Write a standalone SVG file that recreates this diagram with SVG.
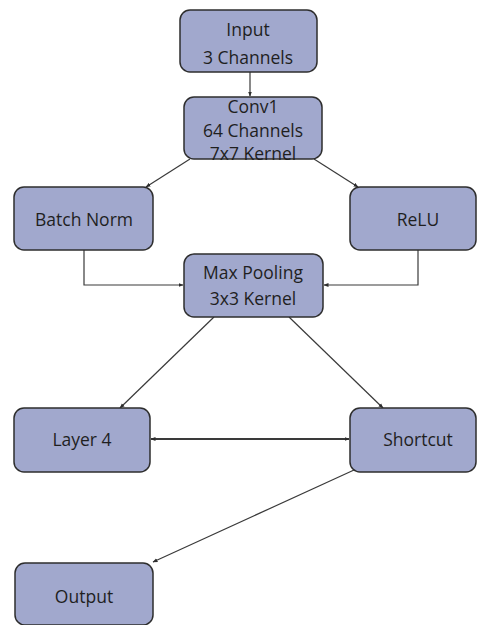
<svg xmlns="http://www.w3.org/2000/svg" width="479" height="625" viewBox="0 0 479 625">
<defs>
<style>
.n rect{fill:#a1a8cd;stroke:#2e2e2e;stroke-width:1.5}
.n text{font-family:"Open Sans","Liberation Sans",sans-serif;font-size:17.5px;fill:#1f1f1f;text-anchor:middle;dominant-baseline:central}
.c path{fill:none;stroke:#3a3a3a;stroke-width:1.2}
</style>
<marker id="a" viewBox="0 0 10 10" refX="9" refY="5" markerWidth="5" markerHeight="5" orient="auto-start-reverse" markerUnits="userSpaceOnUse">
<path d="M0,1 L10,5 L0,9 z" fill="#2e2e2e"/>
</marker>
</defs>
<rect width="479" height="625" fill="#ffffff"/>
<g id="connectors" class="c">
<path d="M250,72 V96" marker-end="url(#a)"/>
<path d="M190,159 L146,187" marker-end="url(#a)"/>
<path d="M314,159 L358,187" marker-end="url(#a)"/>
<path d="M84,250 V285 H183" marker-end="url(#a)"/>
<path d="M418,250 V285 H324" marker-end="url(#a)"/>
<path d="M214,317 L120,408" marker-end="url(#a)"/>
<path d="M289,317 L383,408" marker-end="url(#a)"/>
<path d="M151,439 H349" style="stroke-width:2" marker-start="url(#a)" marker-end="url(#a)"/>
<path d="M354,470 L153,562" marker-end="url(#a)"/>
</g>
<g id="input" class="n"><rect x="180" y="10" width="137" height="62" rx="10"/><text x="248" y="29">Input</text><text x="248" y="57">3 Channels</text></g>
<g id="conv1" class="n"><rect x="184" y="97" width="138" height="62" rx="10"/><text x="253" y="106">Conv1</text><text x="253" y="130">64 Channels</text><text x="253" y="153">7x7 Kernel</text></g>
<g id="batchnorm" class="n"><rect x="14" y="187" width="139" height="63" rx="10"/><text x="84" y="219">Batch Norm</text></g>
<g id="relu" class="n"><rect x="350" y="187" width="126" height="63" rx="10"/><text x="418" y="219">ReLU</text></g>
<g id="maxpool" class="n"><rect x="184" y="254" width="139" height="63" rx="10"/><text x="253" y="272">Max Pooling</text><text x="253" y="298">3x3 Kernel</text></g>
<g id="layer4" class="n"><rect x="14" y="408" width="136" height="64" rx="10"/><text x="82" y="439">Layer 4</text></g>
<g id="shortcut" class="n"><rect x="350" y="408" width="126" height="64" rx="10"/><text x="418" y="439">Shortcut</text></g>
<g id="output" class="n"><rect x="15" y="563" width="138" height="62" rx="10"/><text x="84" y="596">Output</text></g>
</svg>
